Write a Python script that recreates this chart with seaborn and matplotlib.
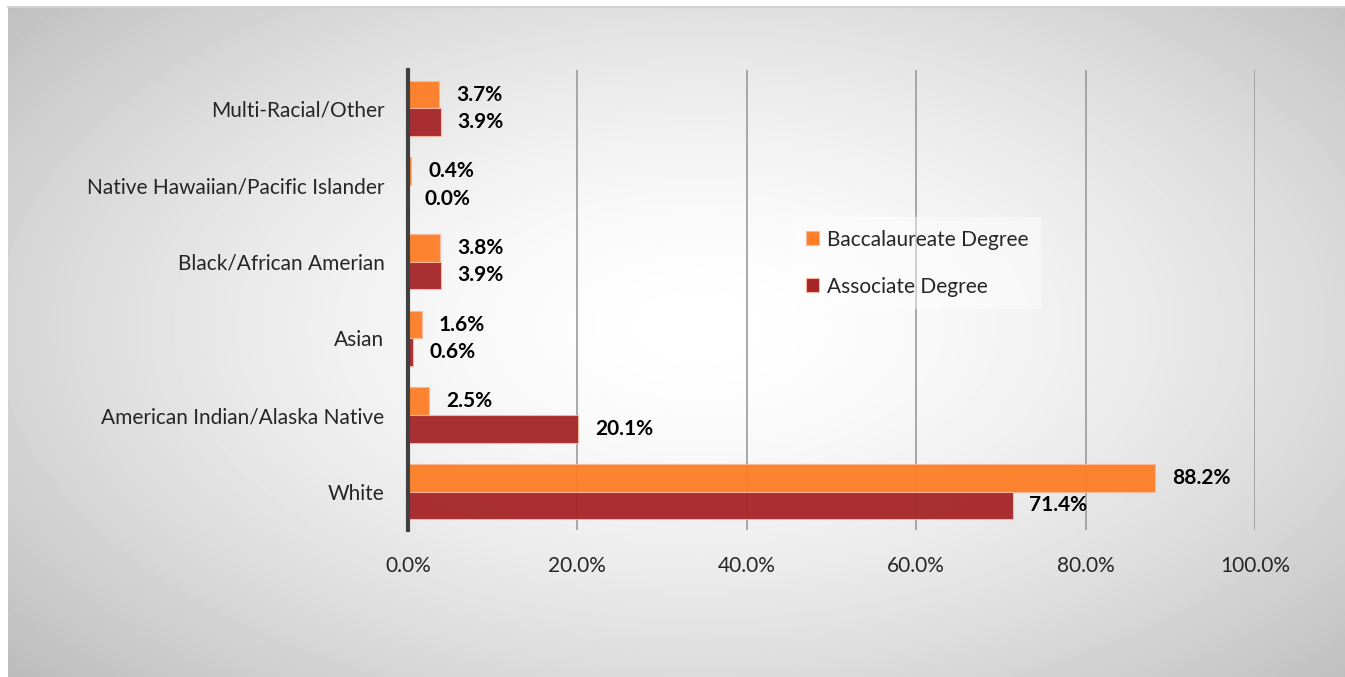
import matplotlib.pyplot as plt
import matplotlib.patches as mpatches
import numpy as np
import pandas as pd
import seaborn as sns

# chart data
groups = ["Multi-Racial/Other", "Native Hawaiian/Pacific Islander",
          "Black/African Amerian", "Asian",
          "American Indian/Alaska Native", "White"]
baccalaureate = [3.7, 0.4, 3.8, 1.6, 2.5, 88.2]
associate = [3.9, 0.0, 3.9, 0.6, 20.1, 71.4]
series = ["Baccalaureate Degree", "Associate Degree"]
x_ticks = [0, 20, 40, 60, 80, 100]

df = pd.DataFrame({
    "group": groups * 2,
    "pct": baccalaureate + associate,
    "degree": [series[0]] * len(groups) + [series[1]] * len(groups),
})

sns.set_style("white")
plt.rcParams["font.family"] = ["Lato", "DejaVu Sans"]

fig = plt.figure(figsize=(13.45, 6.77), dpi=100)

# grey radial backdrop like the office chart area
bg = fig.add_axes([8 / 1345, 0, 1 - 8 / 1345, 670 / 677], zorder=-5)
yy, xx = np.mgrid[0:670, 0:1337]
r = np.sqrt(((xx - 690) / 720.0) ** 2 + ((yy - 320) / 400.0) ** 2)
shade = 255 - 68 * np.clip(r / 1.3, 0, 1) ** 1.6
bg.imshow(shade, cmap="gray", vmin=0, vmax=255, aspect="auto")
bg.axis("off")
fig.add_artist(plt.Line2D([8 / 1345, 1], [670 / 677, 670 / 677],
                          color="#d0d0d0", lw=1.5, transform=fig.transFigure))

ax = fig.add_axes([408 / 1345, 147 / 677, 847 / 1345, 460 / 677])
ax.patch.set_alpha(0)

colors = ["#FD7E26", "#A52428"]
sns.barplot(data=df, y="group", x="pct", hue="degree", order=groups,
            hue_order=series, palette=colors, saturation=1, orient="h",
            width=0.72, alpha=0.95, edgecolor="#f7b89c", linewidth=0.8,
            ax=ax, legend=True, zorder=3)

for cont, vals in zip(ax.containers, [baccalaureate, associate]):
    ax.bar_label(cont, labels=[f"{v:.1f}%" for v in vals], padding=12,
                 fontsize=15, fontweight="bold", color="black")

ax.set_xlim(0, 100)
ax.set_xticks(x_ticks)
ax.set_xticklabels([f"{t:.1f}%" for t in x_ticks], fontsize=15)
ax.tick_params(axis="x", length=0, pad=19)
ax.tick_params(axis="y", length=0, pad=17, labelsize=15)
ax.set_xlabel("")
ax.set_ylabel("")
ax.xaxis.grid(True, color="#9a9a9a", lw=1.2, zorder=0)
ax.set_axisbelow(True)
for side in ["top", "right", "bottom"]:
    ax.spines[side].set_visible(False)
ax.spines["left"].set_color("#404040")
ax.spines["left"].set_linewidth(3)
ax.spines["left"].set_zorder(5)

handles = [mpatches.Patch(facecolor=c, edgecolor="#f7b89c", lw=0.8)
           for c in colors]
leg = ax.legend(handles, series, loc="upper left",
                bbox_to_anchor=(793 / 1345, 1 - 217 / 677),
                bbox_transform=fig.transFigure, fontsize=15,
                handlelength=0.65, handleheight=0.65, handletextpad=0.4,
                labelspacing=1.3, borderpad=0.6, borderaxespad=0,
                frameon=True)
leg.get_frame().set_facecolor("white")
leg.get_frame().set_alpha(0.45)
leg.get_frame().set_edgecolor("none")
leg.get_frame().set_boxstyle("square", pad=0)

fig.savefig("out.png", dpi=100)
